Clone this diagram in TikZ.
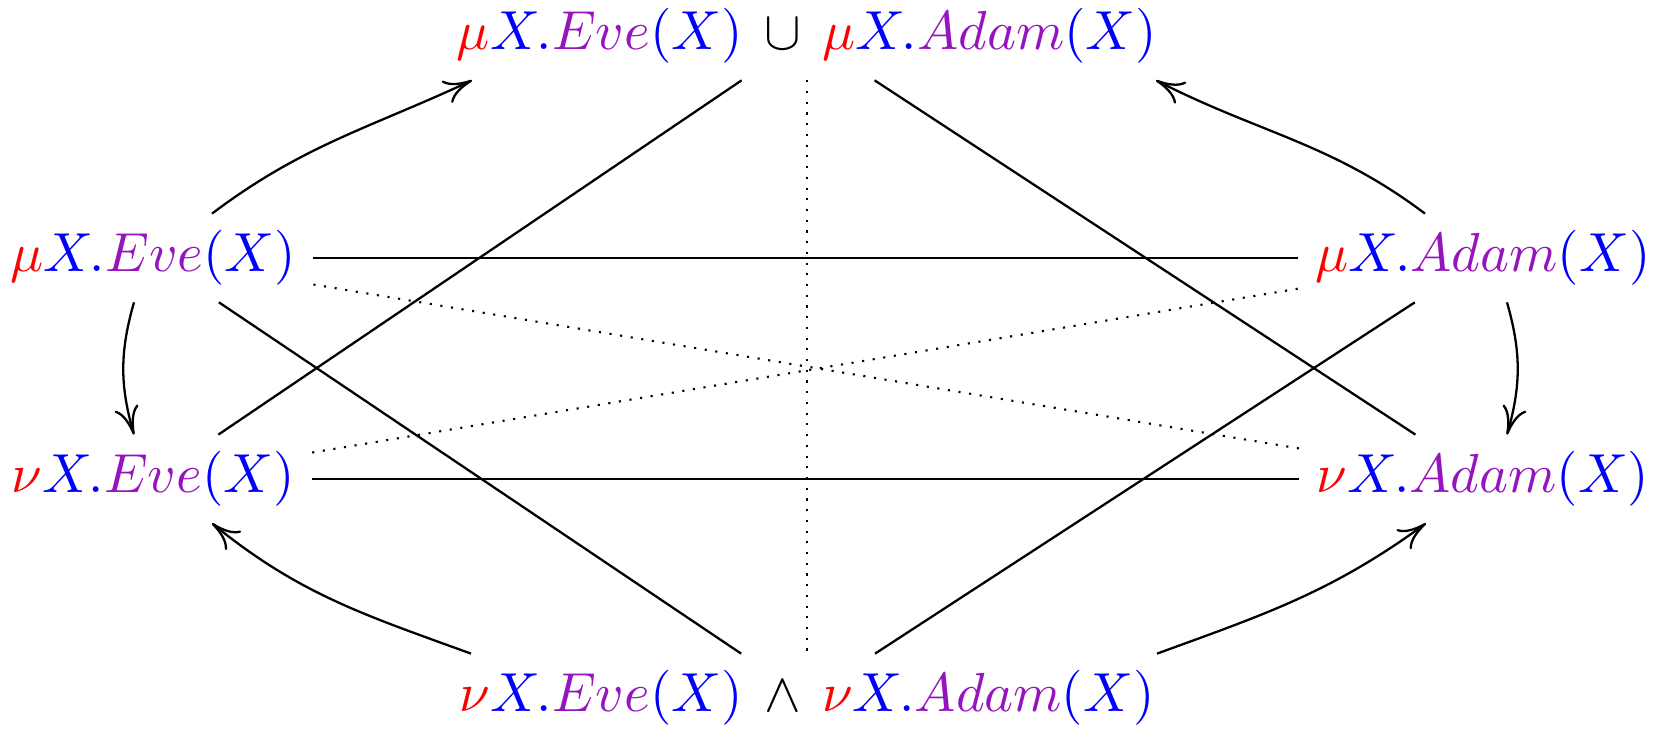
\documentclass[tikz,border=0pt]{standalone}
\usetikzlibrary{arrows.meta}
\definecolor{evecol}{RGB}{150,20,190}
\newcommand{\mR}[1]{{\color{red}#1}}
\newcommand{\mB}[1]{{\color{blue}#1}}
\newcommand{\mP}[1]{{\color{evecol}#1}}
\newcommand{\bigtxt}[1]{\scalebox{1.564}{$#1$}}
\begin{document}
\begin{tikzpicture}[x=0.1mm,y=-0.1mm,
  nd/.style={inner xsep=5pt,inner ysep=4.8pt,outer sep=0pt,font=\fontsize{10}{12}\selectfont},
  ln/.style={line width=0.65pt},
  dt/.style={line width=0.6pt,dash pattern=on 0.6pt off 2.45pt},
  arr/.style={line width=0.65pt,-{Computer Modern Rightarrow[length=8pt,width=7pt]}}]
\useasboundingbox (0,0) rectangle (1657,731);
\node[nd] (top) at (807,36) {\bigtxt{\mR{\mu}\mB{X.}\mP{Eve}\mB{(X)}\,\cup\,\mR{\mu}\mB{X.}\mP{Adam}\mB{(X)}}};
\node[nd] (mE) at (153,258) {\bigtxt{\mR{\mu}\mB{X.}\mP{Eve}\mB{(X)}}};
\node[nd] (mA) at (1483,258) {\bigtxt{\mR{\mu}\mB{X.}\mP{Adam}\mB{(X)}}};
\node[nd] (nE) at (153,479) {\bigtxt{\mR{\nu}\mB{X.}\mP{Eve}\mB{(X)}}};
\node[nd] (nA) at (1483,479) {\bigtxt{\mR{\nu}\mB{X.}\mP{Adam}\mB{(X)}}};
\node[nd] (bot) at (807,698) {\bigtxt{\mR{\nu}\mB{X.}\mP{Eve}\mB{(X)}\,\wedge\,\mR{\nu}\mB{X.}\mP{Adam}\mB{(X)}}};
% solid lines
\draw[ln] (top) -- (nE);
\draw[ln] (top) -- (nA);
\draw[ln] (mE) -- (bot);
\draw[ln] (mA) -- (bot);
\draw[ln] (mE) -- (mA);
\draw[ln] (nE) -- (nA);
% dotted lines
\draw[dt] (mE) -- (nA);
\draw[dt] (nE) -- (mA);
\draw[dt] (top) -- (bot);
% curved arrows
\draw[arr] ([xshift=5.9mm]mE.north) to[out=37,in=205] ([xshift=-33.5mm]top.south);
\draw[arr] ([xshift=-5.8mm]mA.north) to[out=143,in=-27] ([xshift=34.9mm]top.south);
\draw[arr] ([xshift=-33.6mm]bot.north) to[out=160,in=-39] ([xshift=5.9mm]nE.south);
\draw[arr] ([xshift=35mm]bot.north) to[out=20,in=216] ([xshift=-5.7mm]nA.south);
\draw[arr] ([xshift=-1.9mm]mE.south) to[bend right=16] ([xshift=-1.9mm]nE.north);
\draw[arr] ([xshift=2.4mm]mA.south) to[bend left=16] ([xshift=2.4mm]nA.north);
\end{tikzpicture}
\end{document}
